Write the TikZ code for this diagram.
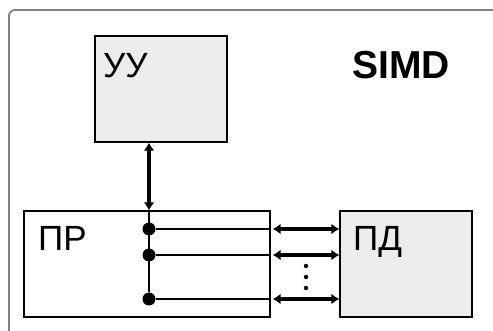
\documentclass[tikz,border=0pt]{standalone}
\usepackage{fontspec}
\setmainfont{Liberation Sans}
\usetikzlibrary{positioning}
\usetikzlibrary{calc}
\usetikzlibrary{arrows.meta}

\begin{document}
\begin{tikzpicture}[x=1pt, y=-1pt,
  block/.style={draw=black, line width=1.4pt, rectangle, inner sep=0pt, minimum height=106pt},
  blocktext/.style={inner sep=0pt, anchor=base west, font=\fontsize{35}{40}\selectfont},
  tap/.style={circle, fill=black, inner sep=0pt, minimum size=13pt},
  bus/.style={line width=3.2pt, {Latex[length=8pt,width=11pt]}-{Latex[length=8pt,width=11pt]}},
  wire/.style={line width=1.3pt}]

        % Page size
        \useasboundingbox (0,0) rectangle (493,331);

        % Outer frame
        \draw[black!50, line width=1.8pt, rounded corners=6pt] (9,331) -- (9,10) -- (493,10);

        % Blocks
        \node[block, fill=gray!15, minimum width=132pt] (uu) at (161,89) {};
        \node[block, fill=white, minimum width=246pt] (pr) at (147,264) {};
        \node[block, fill=gray!15, minimum width=132pt] (pd) at (406,264) {};

        % Texts
        \node[blocktext] (uutext) at (103,78) {УУ};
        \node[blocktext] (prtext) at (38,251) {ПР};
        \node[blocktext] (pdtext) at (353,251) {ПД};
        \node[blocktext, font=\bfseries\fontsize{39}{44}\selectfont] (title) at (352,79) {SIMD};

        % Taps on the common line, each one to its own link
        \foreach \n/\y in {1/229, 2/255, 3/299} {
          \node[tap] (t\n) at (149,\y) {};
          \draw[wire] (t\n) -- (t\n -| pr.east);
          \draw[bus] ($(t\n -| pr.east)+(2,0)$) -- (t\n -| pd.west);
        }

        % Common line
        \draw[wire] (t1 |- pr.north) -- (t3);
        \draw[bus] (uu.south -| t1) -- (t1 |- pr.north);

        % Dots between the links
        \foreach \k/\y in {1/266, 2/277, 3/288} {
          \node[circle, fill=black, inner sep=0pt, minimum size=4.5pt] (v\k) at (306,\y) {};
        }

      \end{tikzpicture}
\end{document}
